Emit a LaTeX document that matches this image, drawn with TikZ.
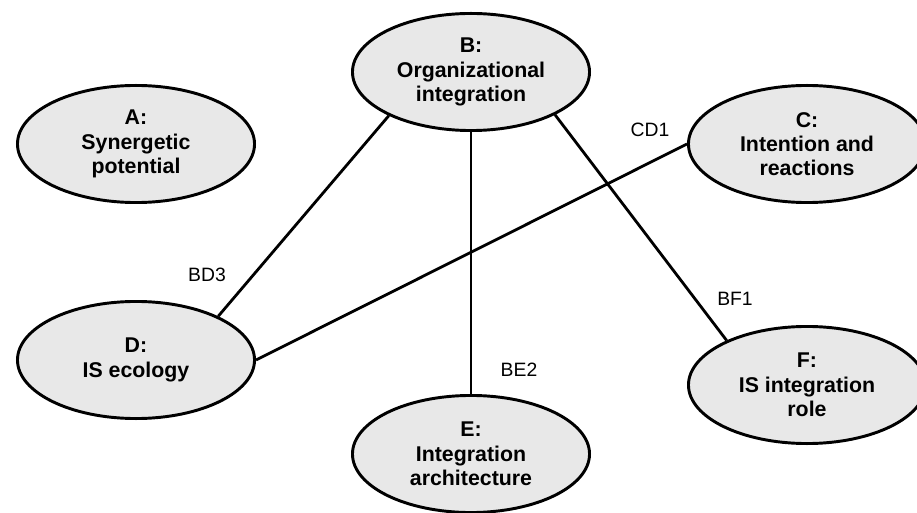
\documentclass[tikz,border=0pt]{standalone}
\usepackage{fontspec}
\setmainfont{Liberation Sans}
\usetikzlibrary{shapes.geometric}
\definecolor{ellfill}{HTML}{E8E8E8}
\begin{document}
\begin{tikzpicture}[x=0.75pt,y=-0.75pt,
  ell/.style={ellipse, draw=black, line width=2.2pt, fill=ellfill,
    minimum width=177.8pt, minimum height=87.8pt, inner sep=0pt,
    align=center, font=\fontsize{16}{18.2}\selectfont\bfseries},
  link/.style={line width=2.1pt},
  lab/.style={font=\fontsize{14.5}{18}\selectfont, inner sep=0pt}]
\useasboundingbox (0,0) rectangle (917,513);
\node[ell] (A) at (136,144) {A:\\Synergetic\\potential};
\node[ell] (B) at (471,72) {B:\\Organizational\\integration};
\node[ell] (C) at (807,144) {C:\\Intention and\\reactions};
\node[ell] (D) at (136,360) {D:\\IS ecology};
\node[ell] (E) at (471,454) {E:\\Integration\\architecture};
\node[ell] (F) at (807,385) {F:\\IS integration\\role};
\draw[link] (B.208) -- (D.28);
\draw[link] (B.south) -- (E.north);
\draw[link] (B.-27) -- (F.151);
\draw[link] (C.west) -- (D.east);
\node[lab] (cd1) at (650,130) {CD1};
\node[lab] (bd3) at (207,275) {BD3};
\node[lab] (be2) at (519,370) {BE2};
\node[lab] (bf1) at (735,299) {BF1};
\end{tikzpicture}
\end{document}
